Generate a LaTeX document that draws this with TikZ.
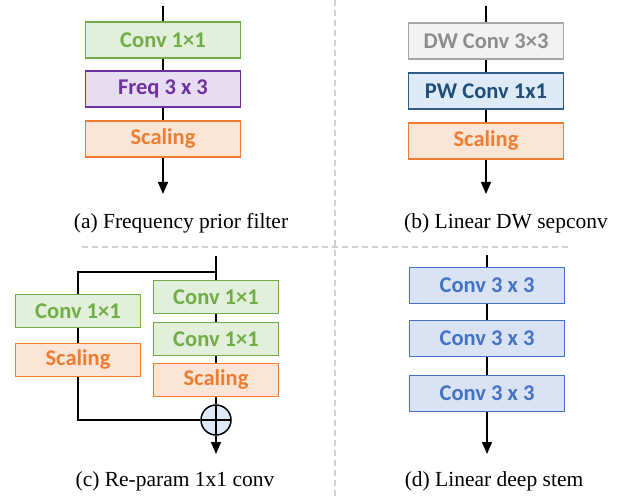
\documentclass[tikz,border=0pt]{standalone}
\usepackage{fontspec}
\setmainfont{Liberation Serif}
\newfontfamily\boxfont{Carlito}
\usetikzlibrary{arrows.meta}

\definecolor{grnfill}{HTML}{E2EFDA}
\definecolor{grnline}{HTML}{70AD47}
\definecolor{purfill}{HTML}{E6DEF0}
\definecolor{purline}{HTML}{7030A0}
\definecolor{orgfill}{HTML}{FBE5D6}
\definecolor{orgline}{HTML}{ED7D31}
\definecolor{gryfill}{HTML}{F2F2F2}
\definecolor{gryline}{HTML}{A6A6A6}
\definecolor{grytext}{HTML}{8C8C8C}
\definecolor{pwfill}{HTML}{DEEBF7}
\definecolor{pwline}{HTML}{2E5C8A}
\definecolor{pwtext}{HTML}{1F4E79}
\definecolor{blufill}{HTML}{DAE3F3}
\definecolor{bluline}{HTML}{4472C4}
\definecolor{sepgray}{HTML}{CFCFCF}

\tikzset{
  blk/.style={rectangle, draw, line width=1.6pt, minimum width=155pt,
    minimum height=36pt, inner sep=0pt,
    font=\boxfont\bfseries\fontsize{22.5}{25}\selectfont},
  green/.style={blk, fill=grnfill, draw=grnline, text=grnline, minimum width=125pt, minimum height=33pt},
  greenA/.style={blk, fill=grnfill, draw=grnline, text=grnline},
  purple/.style={blk, fill=purfill, draw=purline, text=purline},
  orange/.style={blk, fill=orgfill, draw=orgline, text=orgline},
  orangeC/.style={orange, minimum width=125pt, minimum height=33pt},
  gray/.style={blk, fill=gryfill, draw=gryline, text=grytext},
  pw/.style={blk, fill=pwfill, draw=pwline, text=pwtext},
  blue/.style={blk, fill=blufill, draw=bluline, text=bluline},
  wire/.style={line width=1.5pt, black},
  arr/.style={wire, -{Triangle[width=10pt,length=12pt]}},
  caption/.style={anchor=base, font=\fontsize{21.5}{24}\selectfont},
  sep/.style={draw=sepgray, line width=1.3pt, dash pattern=on 6pt off 4pt},
  adder/.style={circle, draw=black, line width=1.5pt, fill=pwfill,
    minimum size=30pt, inner sep=0pt,
    path picture={
      \draw[line width=1.5pt] (path picture bounding box.north) -- (path picture bounding box.south);
      \draw[line width=1.5pt] (path picture bounding box.west) -- (path picture bounding box.east);}},
}

\begin{document}
\begin{tikzpicture}[x=1pt, y=-1pt]
\useasboundingbox (0,0) rectangle (618,497);

% panel separators
\draw[sep] (335,0) -- (335,497);
\draw[sep] (82,247) -- (570,247);

% (a) frequency prior filter
\coordinate (atop) at (163,6);
\coordinate (aend) at (163,194);
\node[greenA] (aconv) at (163,40) {Conv 1×1};
\node[purple] (afreq) at (163,89) {Freq 3 x 3};
\node[orange] (ascale) at (163,139) {Scaling};
\draw[wire] (atop) -- (aconv.north);
\draw[wire] (aconv.south) -- (afreq.north);
\draw[wire] (afreq.south) -- (ascale.north);
\draw[arr] (ascale.south) -- (aend);
\node[caption] (acap) at (181,228) {(a) Frequency prior filter};

% (b) linear depthwise separable conv
\coordinate (btop) at (486,6);
\coordinate (bend) at (486,194);
\node[gray] (bdw) at (486,41) {DW Conv 3×3};
\node[pw] (bpw) at (486,91) {PW Conv 1x1};
\node[orange] (bscale) at (486,141) {Scaling};
\draw[wire] (btop) -- (bdw.north);
\draw[wire] (bdw.south) -- (bpw.north);
\draw[wire] (bpw.south) -- (bscale.north);
\draw[arr] (bscale.south) -- (bend);
\node[caption] (bcap) at (506,228) {(b) Linear DW sepconv};

% (c) re-parameterised 1x1 conv
\coordinate (ctop) at (216,256);
\coordinate (csplit) at (216,272);
\coordinate (cleft) at (78,272);
\coordinate (cjoin) at (78,420);
\coordinate (cend) at (216,454);
\node[green] (clconv) at (78,311) {Conv 1×1};
\node[orangeC] (clscale) at (78,360) {Scaling};
\node[green] (crconv1) at (216,297) {Conv 1×1};
\node[green] (crconv2) at (216,339) {Conv 1×1};
\node[orangeC] (crscale) at (216,380) {Scaling};
\node[adder] (cadd) at (216,420) {};
\draw[wire] (ctop) -- (csplit) -- (cleft) -- (clconv.north);
\draw[wire] (clconv.south) -- (clscale.north);
\draw[wire] (clscale.south) -- (cjoin) -- (cadd.west);
\draw[wire] (csplit) -- (crconv1.north);
\draw[wire] (crconv1.south) -- (crconv2.north);
\draw[wire] (crconv2.south) -- (crscale.north);
\draw[wire] (crscale.south) -- (cadd.north);
\draw[arr] (cadd.south) -- (cend);
\node[caption] (ccap) at (175,486) {(c) Re-param 1x1 conv};

% (d) linear deep stem
\coordinate (dtop) at (487,255);
\coordinate (dend) at (487,454);
\node[blue] (d1) at (487,285.5) {Conv 3 x 3};
\node[blue] (d2) at (487,338.5) {Conv 3 x 3};
\node[blue] (d3) at (487,393.5) {Conv 3 x 3};
\draw[wire] (dtop) -- (d1.north);
\draw[wire] (d1.south) -- (d2.north);
\draw[wire] (d2.south) -- (d3.north);
\draw[arr] (d3.south) -- (dend);
\node[caption] (dcap) at (494,486) {(d) Linear deep stem};
\end{tikzpicture}
\end{document}
